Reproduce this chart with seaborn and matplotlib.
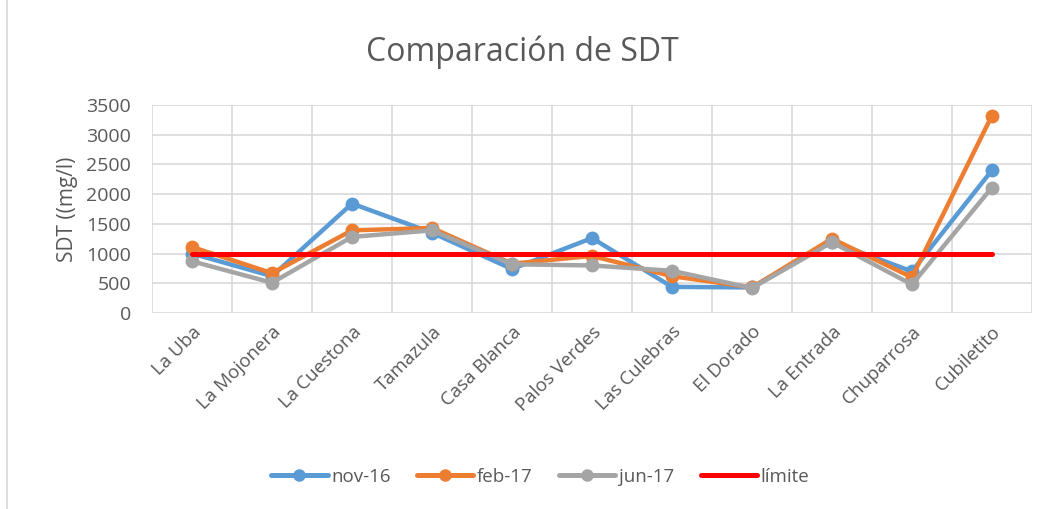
import numpy as np
import pandas as pd
import matplotlib
matplotlib.use("Agg")
import matplotlib.pyplot as plt
import seaborn as sns
from matplotlib.patches import Rectangle
from matplotlib.lines import Line2D

sitios = ["La Uba", "La Mojonera", "La Cuestona", "Tamazula", "Casa Blanca",
          "Palos Verdes", "Las Culebras", "El Dorado", "La Entrada",
          "Chuparrosa", "Cubiletito"]
nov16 = [1000, 620, 1840, 1350, 740, 1260, 440, 430, 1200, 700, 2400]
feb17 = [1110, 670, 1390, 1430, 830, 960, 620, 430, 1250, 600, 3320]
jun17 = [870, 510, 1280, 1390, 820, 800, 710, 420, 1190, 480, 2110]
limite = [1000] * len(sitios)

series = {"nov-16": nov16, "feb-17": feb17, "jun-17": jun17, "límite": limite}
colores = {"nov-16": "#5b9bd5", "feb-17": "#ed7d31", "jun-17": "#a5a5a5", "límite": "#ff0000"}

df = pd.DataFrame([
    {"sitio": s, "serie": k, "valor": v}
    for k, vals in series.items() for s, v in zip(sitios, vals)
])

sns.set_theme(style="white")
plt.rcParams["font.family"] = ["Open Sans", "DejaVu Sans"]
gris = "#595959"

fig = plt.figure(figsize=(10.45, 5.09), dpi=100)
ax = fig.add_axes([0.1455, 0.385, 0.842, 0.409])

for k in ["nov-16", "feb-17", "jun-17"]:
    sns.lineplot(data=df[df["serie"] == k], x="sitio", y="valor", ax=ax,
                 color=colores[k], linewidth=3.2, marker="o", markersize=10,
                 markeredgewidth=0, sort=False, label=k)
sns.lineplot(data=df[df["serie"] == "límite"], x="sitio", y="valor", ax=ax,
             color=colores["límite"], linewidth=3.6, sort=False, label="límite",
             solid_capstyle="round")

ax.set_xlim(-0.5, len(sitios) - 0.5)
ax.set_ylim(0, 3500)
ax.set_yticks(np.arange(0, 3501, 500))
ax.set_xticks(range(len(sitios)))
ax.set_xticklabels(sitios, rotation=45, ha="right", rotation_mode="anchor",
                   fontsize=13.5, color=gris)
ax.set_xticks(np.arange(-0.5, len(sitios), 1), minor=True)
ax.tick_params(axis="y", labelsize=14, colors=gris, length=0, pad=15)
ax.tick_params(axis="x", which="both", length=0, pad=7)
ax.grid(axis="y", which="major", color="#d9d9d9", linewidth=1.2)
ax.grid(axis="x", which="minor", color="#d9d9d9", linewidth=1.2)
ax.grid(axis="x", which="major", visible=False)
for sp in ax.spines.values():
    sp.set_visible(False)
ax.set_axisbelow(True)
ax.set_xlabel("")
ax.set_ylabel("SDT ((mg/l)", fontsize=15, color=gris, labelpad=6)

fig.suptitle("Comparación de SDT", y=0.93, fontsize=23, color=gris)

handles = [Line2D([0], [0], color=colores[k], linewidth=3.6,
                  marker="o" if k != "límite" else None, markersize=9,
                  markeredgewidth=0) for k in series]
ax.legend_.remove()
fig.legend(handles, list(series.keys()), loc="center", bbox_to_anchor=(0.517, 0.063),
           ncol=4, frameon=False, fontsize=13.5, labelcolor=gris,
           handlelength=3.0, columnspacing=1.4, handletextpad=0.2)

fig.add_artist(Rectangle((0.007, -0.02), 1.0, 1.03, transform=fig.transFigure,
                         fill=False, edgecolor="#d9d9d9", linewidth=1.2))

fig.savefig("out.png", dpi=100)
